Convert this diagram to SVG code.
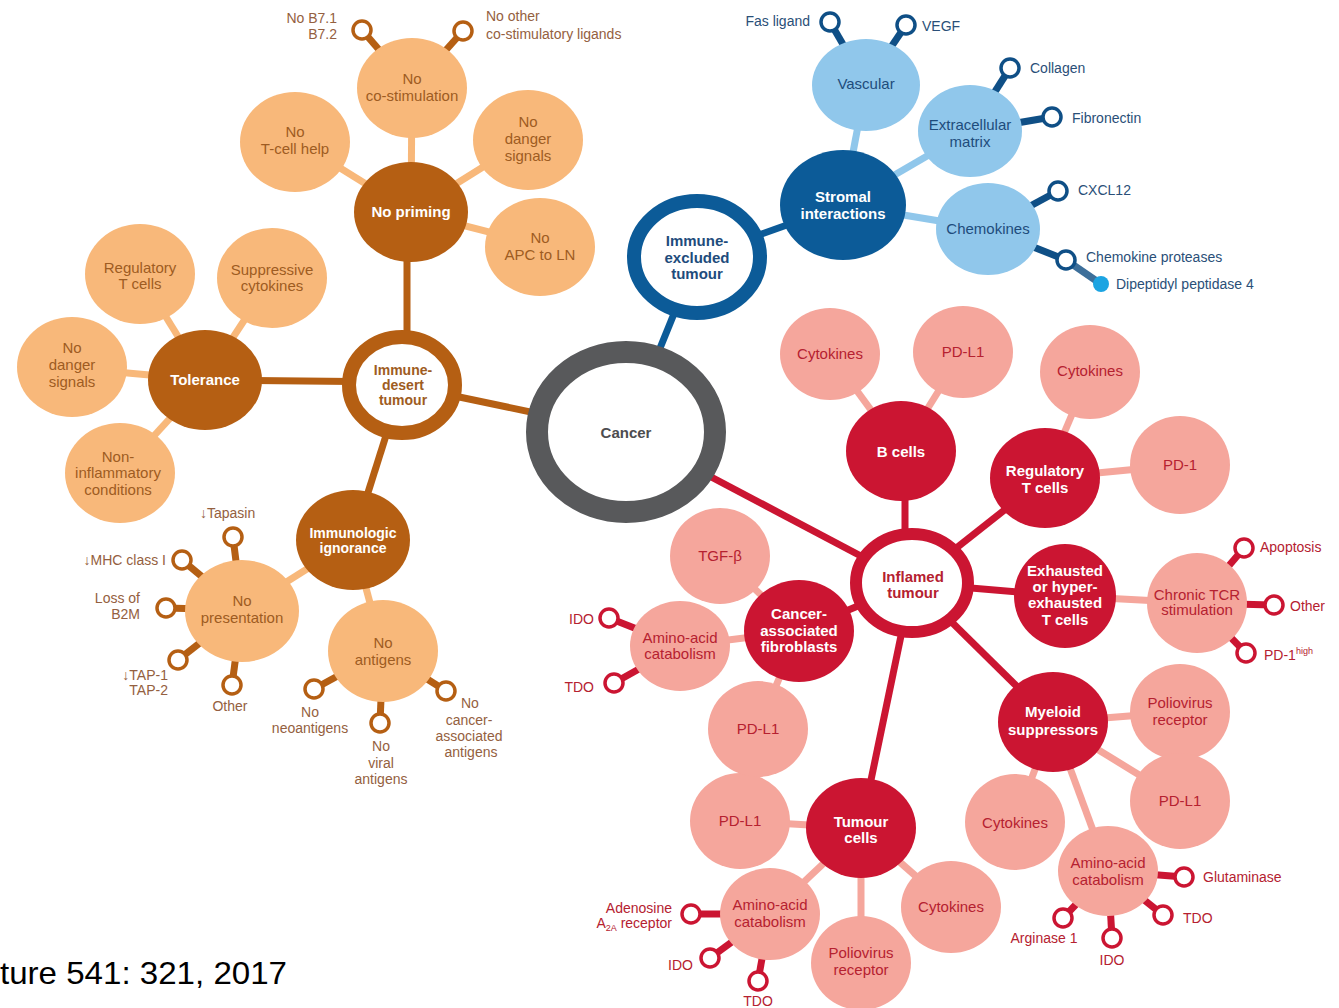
<svg xmlns="http://www.w3.org/2000/svg" width="1339" height="1008" viewBox="0 0 1339 1008">
<style>
text{font-family:"Liberation Sans Narrow","Liberation Sans",Arial,sans-serif;font-size:15px;text-anchor:middle}
.b{font-weight:bold;fill:#fff}
.ol{fill:#f8b87a}.od{fill:#b55f13}.otx{fill:#9e5c22}.osm{fill:#946040;font-size:14px}
.bl{fill:#90c7eb}.bd{fill:#0c5b98}.btx{fill:#1e4c7c}.bsm{fill:#2a4f78;font-size:14px}
.rl{fill:#f5a69c}.rd{fill:#cb1532}.rtx{fill:#b52130}.rsm{fill:#b52130;font-size:14px}
.st{text-anchor:start}.en{text-anchor:end}
.sm14{font-size:14px}
.co line{stroke-width:7}
.cO{stroke:#b55f13}.cOl{stroke:#f8b87a}.cB{stroke:#0c5b98}.cBl{stroke:#90c7eb}.cR{stroke:#cb1532}.cRl{stroke:#f5a69c}
.sO{stroke:#b55f13;stroke-width:3.5}.sB{stroke:#0f4f86;stroke-width:3.5}.sR{stroke:#cb1532;stroke-width:3.5}
.rO{fill:#fff;stroke:#b55f13;stroke-width:3.5}.rB{fill:#fff;stroke:#0f4f86;stroke-width:3.5}.rR{fill:#fff;stroke:#cb1532;stroke-width:3.5}
</style>
<rect width="1339" height="1008" fill="#fff"/>
<g id="connectors" class="co">
<line class="cO" x1="626" y1="432" x2="402" y2="385"/>
<line class="cO" x1="407" y1="385" x2="407" y2="212"/>
<line class="cO" x1="402" y1="382" x2="205" y2="380"/>
<line class="cO" x1="402" y1="385" x2="353" y2="540"/>
<line class="cOl" x1="411" y1="212" x2="412" y2="88"/>
<line class="cOl" x1="411" y1="212" x2="295" y2="140"/>
<line class="cOl" x1="411" y1="212" x2="528" y2="139"/>
<line class="cOl" x1="411" y1="212" x2="540" y2="245"/>
<line class="cOl" x1="205" y1="380" x2="140" y2="275"/>
<line class="cOl" x1="205" y1="380" x2="272" y2="278"/>
<line class="cOl" x1="205" y1="380" x2="72" y2="368"/>
<line class="cOl" x1="205" y1="380" x2="120" y2="473"/>
<line class="cOl" x1="353" y1="540" x2="242" y2="610"/>
<line class="cOl" x1="353" y1="540" x2="383" y2="651"/>
<line class="sO" x1="362" y1="30" x2="412" y2="88"/>
<line class="sO" x1="463" y1="31" x2="412" y2="88"/>
<line class="sO" x1="233" y1="537" x2="242" y2="610"/>
<line class="sO" x1="182" y1="560" x2="242" y2="610"/>
<line class="sO" x1="166" y1="608" x2="242" y2="610"/>
<line class="sO" x1="178" y1="660" x2="242" y2="610"/>
<line class="sO" x1="232" y1="685" x2="242" y2="610"/>
<line class="sO" x1="314" y1="689" x2="383" y2="651"/>
<line class="sO" x1="380" y1="723" x2="383" y2="651"/>
<line class="sO" x1="446" y1="691" x2="383" y2="651"/>
<line class="cB" x1="626" y1="432" x2="697" y2="257"/>
<line class="cB" x1="697" y1="257" x2="843" y2="205"/>
<line class="cBl" x1="843" y1="205" x2="866" y2="84"/>
<line class="cBl" x1="843" y1="205" x2="970" y2="131"/>
<line class="cBl" x1="843" y1="205" x2="988" y2="229"/>
<line class="sB" x1="830" y1="22" x2="866" y2="84"/>
<line class="sB" x1="906" y1="25" x2="866" y2="84"/>
<line class="sB" x1="1010" y1="68" x2="970" y2="131"/>
<line class="sB" x1="1052" y1="117" x2="970" y2="131"/>
<line class="sB" x1="1058" y1="191" x2="988" y2="229"/>
<line class="sB" x1="1066" y1="260" x2="988" y2="229"/>
<line stroke="#3d6f9a" stroke-width="2" x1="1066" y1="260" x2="1101" y2="284"/>
<line class="cR" x1="626" y1="432" x2="912" y2="583"/>
<line class="cR" x1="905" y1="583" x2="905" y2="451"/>
<line class="cR" x1="912" y1="583" x2="1045" y2="478"/>
<line class="cR" x1="912" y1="583" x2="1065" y2="596"/>
<line class="cR" x1="912" y1="583" x2="1053" y2="722"/>
<line class="cR" x1="912" y1="583" x2="861" y2="828"/>
<line class="cR" x1="912" y1="583" x2="799" y2="631"/>
<line class="cRl" x1="901" y1="451" x2="830" y2="354"/>
<line class="cRl" x1="901" y1="451" x2="963" y2="352"/>
<line class="cRl" x1="1045" y1="478" x2="1090" y2="372"/>
<line class="cRl" x1="1045" y1="478" x2="1180" y2="465"/>
<line class="cRl" x1="1065" y1="596" x2="1197" y2="603"/>
<line class="cRl" x1="1053" y1="722" x2="1180" y2="712"/>
<line class="cRl" x1="1053" y1="722" x2="1180" y2="800"/>
<line class="cRl" x1="1053" y1="722" x2="1015" y2="822"/>
<line class="cRl" x1="1053" y1="722" x2="1108" y2="871"/>
<line class="cRl" x1="861" y1="828" x2="740" y2="821"/>
<line class="cRl" x1="861" y1="828" x2="770" y2="914"/>
<line class="cRl" x1="861" y1="828" x2="861" y2="962"/>
<line class="cRl" x1="861" y1="828" x2="951" y2="907"/>
<line class="cRl" x1="799" y1="631" x2="720" y2="556"/>
<line class="cRl" x1="799" y1="631" x2="680" y2="646"/>
<line class="cRl" x1="799" y1="631" x2="758" y2="729"/>
<line class="sR" x1="1244" y1="548" x2="1197" y2="603"/>
<line class="sR" x1="1274" y1="605" x2="1197" y2="603"/>
<line class="sR" x1="1246" y1="653" x2="1197" y2="603"/>
<line class="sR" x1="1184" y1="877" x2="1108" y2="871"/>
<line class="sR" x1="1163" y1="915" x2="1108" y2="871"/>
<line class="sR" x1="1112" y1="938" x2="1108" y2="871"/>
<line class="sR" x1="1063" y1="918" x2="1108" y2="871"/>
<line class="sR" x1="691" y1="914" x2="770" y2="914"/>
<line class="sR" x1="710" y1="958" x2="770" y2="914"/>
<line class="sR" x1="758" y1="981" x2="770" y2="914"/>
<line class="sR" x1="609" y1="618" x2="680" y2="646"/>
<line class="sR" x1="614" y1="683" x2="680" y2="646"/>
</g>
<g id="cancer"><ellipse cx="626" cy="432" rx="89" ry="80" fill="#fff" stroke="#58595b" stroke-width="22"/><text x="626" y="438" font-weight="bold" fill="#4d4d4f">Cancer</text></g>
<g id="immune-desert"><ellipse cx="402" cy="385" rx="53" ry="48" fill="#fff" stroke="#b55f13" stroke-width="14"/><text class="sm14" x="403" y="375" font-weight="bold" fill="#9e5c22">Immune-</text><text class="sm14" x="403" y="390" font-weight="bold" fill="#9e5c22">desert</text><text class="sm14" x="403" y="405" font-weight="bold" fill="#9e5c22">tumour</text></g>
<g id="no-priming"><ellipse class="od" cx="411" cy="212" rx="57" ry="50"/><text class="b" x="411" y="217">No priming</text></g>
<g id="no-costim"><ellipse class="ol" cx="412" cy="88" rx="55" ry="50"/><text class="otx" x="412" y="84">No</text><text class="otx" x="412" y="101">co-stimulation</text></g>
<g id="no-tcell-help"><ellipse class="ol" cx="295" cy="142" rx="55" ry="50"/><text class="otx" x="295" y="137">No</text><text class="otx" x="295" y="154">T-cell help</text></g>
<g id="no-danger-top"><ellipse class="ol" cx="528" cy="140" rx="55" ry="50"/><text class="otx" x="528" y="127">No</text><text class="otx" x="528" y="144">danger</text><text class="otx" x="528" y="161">signals</text></g>
<g id="no-apc"><ellipse class="ol" cx="540" cy="247" rx="55" ry="49"/><text class="otx" x="540" y="243">No</text><text class="otx" x="540" y="260">APC to LN</text></g>
<g id="ring-b7"><circle class="rO" cx="362" cy="30" r="9"/><text class="osm en" x="337" y="23">No B7.1</text><text class="osm en" x="337" y="39">B7.2</text></g>
<g id="ring-other-costim"><circle class="rO" cx="463" cy="31" r="9"/><text class="osm st" x="486" y="21">No other</text><text class="osm st" x="486" y="39">co-stimulatory ligands</text></g>
<g id="tolerance"><ellipse class="od" cx="205" cy="380" rx="57" ry="50"/><text class="b" x="205" y="385">Tolerance</text></g>
<g id="reg-t"><ellipse class="ol" cx="140" cy="274" rx="55" ry="50"/><text class="otx" x="140" y="273">Regulatory</text><text class="otx" x="140" y="289">T cells</text></g>
<g id="supp-cyt"><ellipse class="ol" cx="272" cy="278" rx="55" ry="50"/><text class="otx" x="272" y="275">Suppressive</text><text class="otx" x="272" y="291">cytokines</text></g>
<g id="no-danger-left"><ellipse class="ol" cx="72" cy="367" rx="55" ry="50"/><text class="otx" x="72" y="353">No</text><text class="otx" x="72" y="370">danger</text><text class="otx" x="72" y="387">signals</text></g>
<g id="non-inflam"><ellipse class="ol" cx="120" cy="473" rx="55" ry="50"/><text class="otx" x="118" y="462">Non-</text><text class="otx" x="118" y="478">inflammatory</text><text class="otx" x="118" y="495">conditions</text></g>
<g id="ignorance"><ellipse class="od" cx="353" cy="540" rx="57" ry="50"/><text class="b sm14" x="353" y="538">Immunologic</text><text class="b sm14" x="353" y="553">ignorance</text></g>
<g id="no-presentation"><ellipse class="ol" cx="242" cy="611" rx="57" ry="51"/><text class="otx" x="242" y="606">No</text><text class="otx" x="242" y="623">presentation</text></g>
<g id="no-antigens"><ellipse class="ol" cx="383" cy="651" rx="55" ry="51"/><text class="otx" x="383" y="648">No</text><text class="otx" x="383" y="665">antigens</text></g>
<g id="ring-tapasin"><circle class="rO" cx="233" cy="537" r="9"/><text class="osm st" x="200" y="518">↓Tapasin</text></g>
<g id="ring-mhc"><circle class="rO" cx="182" cy="560" r="9"/><text class="osm en" x="166" y="565">↓MHC class I</text></g>
<g id="ring-b2m"><circle class="rO" cx="166" cy="608" r="9"/><text class="osm en" x="140" y="603">Loss of</text><text class="osm en" x="140" y="619">B2M</text></g>
<g id="ring-tap"><circle class="rO" cx="178" cy="660" r="9"/><text class="osm en" x="168" y="680">↓TAP-1</text><text class="osm en" x="168" y="695">TAP-2</text></g>
<g id="ring-other-pres"><circle class="rO" cx="232" cy="685" r="9"/><text class="osm" x="230" y="711">Other</text></g>
<g id="ring-neo"><circle class="rO" cx="314" cy="689" r="9"/><text class="osm" x="310" y="717">No</text><text class="osm" x="310" y="733">neoantigens</text></g>
<g id="ring-viral"><circle class="rO" cx="380" cy="723" r="9"/><text class="osm" x="381" y="751">No</text><text class="osm" x="381" y="768">viral</text><text class="osm" x="381" y="784">antigens</text></g>
<g id="ring-caa"><circle class="rO" cx="446" cy="691" r="9"/><text class="osm st" x="461" y="708">No</text><text class="osm" x="469" y="725">cancer-</text><text class="osm" x="469" y="741">associated</text><text class="osm" x="471" y="757">antigens</text></g>
<g id="immune-excluded"><ellipse cx="697" cy="257" rx="63" ry="56" fill="#fff" stroke="#0c5b98" stroke-width="14"/><text x="697" y="246" font-weight="bold" fill="#1e4c7c">Immune-</text><text x="697" y="263" font-weight="bold" fill="#1e4c7c">excluded</text><text x="697" y="279" font-weight="bold" fill="#1e4c7c">tumour</text></g>
<g id="stromal"><ellipse class="bd" cx="843" cy="205" rx="63" ry="55"/><text class="b" x="843" y="202">Stromal</text><text class="b" x="843" y="219">interactions</text></g>
<g id="vascular"><ellipse class="bl" cx="866" cy="85" rx="54" ry="46"/><text class="btx" x="866" y="89">Vascular</text></g>
<g id="ecm"><ellipse class="bl" cx="970" cy="131" rx="52" ry="46"/><text class="btx" x="970" y="130">Extracellular</text><text class="btx" x="970" y="147">matrix</text></g>
<g id="chemokines"><ellipse class="bl" cx="988" cy="229" rx="52" ry="46"/><text class="btx" x="988" y="234">Chemokines</text></g>
<g id="ring-fas"><circle class="rB" cx="830" cy="22" r="9"/><text class="bsm en" x="810" y="26">Fas ligand</text></g>
<g id="ring-vegf"><circle class="rB" cx="906" cy="25" r="9"/><text class="bsm st" x="922" y="31">VEGF</text></g>
<g id="ring-collagen"><circle class="rB" cx="1010" cy="68" r="9"/><text class="bsm st" x="1030" y="73">Collagen</text></g>
<g id="ring-fibronectin"><circle class="rB" cx="1052" cy="117" r="9"/><text class="bsm st" x="1072" y="123">Fibronectin</text></g>
<g id="ring-cxcl12"><circle class="rB" cx="1058" cy="191" r="9"/><text class="bsm st" x="1078" y="195">CXCL12</text></g>
<g id="ring-proteases"><circle class="rB" cx="1066" cy="260" r="9"/><text class="bsm st" x="1086" y="262">Chemokine proteases</text></g>
<g id="dpp4"><circle cx="1101" cy="284" r="8" fill="#1ca4e2"/><text class="bsm st" x="1116" y="289">Dipeptidyl peptidase 4</text></g>
<g id="inflamed"><ellipse cx="912" cy="583" rx="56" ry="49" fill="#fff" stroke="#cb1532" stroke-width="12"/><text x="913" y="582" font-weight="bold" fill="#b52130">Inflamed</text><text x="913" y="598" font-weight="bold" fill="#b52130">tumour</text></g>
<g id="b-cells"><ellipse class="rd" cx="901" cy="451" rx="55" ry="50"/><text class="b" x="901" y="457">B cells</text></g>
<g id="cyt-b"><ellipse class="rl" cx="830" cy="354" rx="50" ry="46"/><text class="rtx" x="830" y="359">Cytokines</text></g>
<g id="pdl1-b"><ellipse class="rl" cx="963" cy="352" rx="50" ry="46"/><text class="rtx" x="963" y="357">PD-L1</text></g>
<g id="treg"><ellipse class="rd" cx="1045" cy="478" rx="55" ry="50"/><text class="b" x="1045" y="476">Regulatory</text><text class="b" x="1045" y="493">T cells</text></g>
<g id="cyt-treg"><ellipse class="rl" cx="1090" cy="372" rx="50" ry="47"/><text class="rtx" x="1090" y="376">Cytokines</text></g>
<g id="pd1"><ellipse class="rl" cx="1180" cy="465" rx="50" ry="49"/><text class="rtx" x="1180" y="470">PD-1</text></g>
<g id="exhausted"><ellipse class="rd" cx="1065" cy="596" rx="51" ry="52"/><text class="b" x="1065" y="576">Exhausted</text><text class="b" x="1065" y="592">or hyper-</text><text class="b" x="1065" y="608">exhausted</text><text class="b" x="1065" y="625">T cells</text></g>
<g id="chronic-tcr"><ellipse class="rl" cx="1197" cy="603" rx="50" ry="50"/><text class="rtx" x="1197" y="600">Chronic TCR</text><text class="rtx" x="1197" y="615">stimulation</text></g>
<g id="ring-apoptosis"><circle class="rR" cx="1244" cy="548" r="9"/><text class="rsm st" x="1260" y="552">Apoptosis</text></g>
<g id="ring-other-tcr"><circle class="rR" cx="1274" cy="605" r="9"/><text class="rsm st" x="1290" y="611">Other</text></g>
<g id="ring-pd1high"><circle class="rR" cx="1246" cy="653" r="9"/><text class="rsm st" x="1264" y="660">PD-1<tspan font-size="9" dy="-6">high</tspan></text></g>
<g id="myeloid"><ellipse class="rd" cx="1053" cy="722" rx="55" ry="50"/><text class="b" x="1053" y="717">Myeloid</text><text class="b" x="1053" y="735">suppressors</text></g>
<g id="polio-m"><ellipse class="rl" cx="1180" cy="712" rx="50" ry="48"/><text class="rtx" x="1180" y="708">Poliovirus</text><text class="rtx" x="1180" y="725">receptor</text></g>
<g id="pdl1-m"><ellipse class="rl" cx="1180" cy="801" rx="50" ry="48"/><text class="rtx" x="1180" y="806">PD-L1</text></g>
<g id="cyt-m"><ellipse class="rl" cx="1015" cy="822" rx="50" ry="48"/><text class="rtx" x="1015" y="828">Cytokines</text></g>
<g id="amino-m"><ellipse class="rl" cx="1108" cy="871" rx="50" ry="45"/><text class="rtx" x="1108" y="868">Amino-acid</text><text class="rtx" x="1108" y="885">catabolism</text></g>
<g id="ring-glut"><circle class="rR" cx="1184" cy="877" r="9"/><text class="rsm st" x="1203" y="882">Glutaminase</text></g>
<g id="ring-tdo-m"><circle class="rR" cx="1163" cy="915" r="9"/><text class="rsm st" x="1183" y="923">TDO</text></g>
<g id="ring-ido-m"><circle class="rR" cx="1112" cy="938" r="9"/><text class="rsm" x="1112" y="965">IDO</text></g>
<g id="ring-arg"><circle class="rR" cx="1063" cy="918" r="9"/><text class="rsm" x="1044" y="943">Arginase 1</text></g>
<g id="tumour-cells"><ellipse class="rd" cx="861" cy="828" rx="55" ry="50"/><text class="b" x="861" y="827">Tumour</text><text class="b" x="861" y="843">cells</text></g>
<g id="pdl1-t"><ellipse class="rl" cx="740" cy="821" rx="50" ry="48"/><text class="rtx" x="740" y="826">PD-L1</text></g>
<g id="amino-t"><ellipse class="rl" cx="770" cy="914" rx="50" ry="46"/><text class="rtx" x="770" y="910">Amino-acid</text><text class="rtx" x="770" y="927">catabolism</text></g>
<g id="polio-t"><ellipse class="rl" cx="861" cy="963" rx="50" ry="47"/><text class="rtx" x="861" y="958">Poliovirus</text><text class="rtx" x="861" y="975">receptor</text></g>
<g id="cyt-t"><ellipse class="rl" cx="951" cy="907" rx="50" ry="46"/><text class="rtx" x="951" y="912">Cytokines</text></g>
<g id="ring-adenosine"><circle class="rR" cx="691" cy="914" r="9"/><text class="rsm en" x="672" y="913">Adenosine</text><text class="rsm en" x="672" y="928">A<tspan font-size="9" dy="3">2A</tspan><tspan dy="-3"> receptor</tspan></text></g>
<g id="ring-ido-t"><circle class="rR" cx="710" cy="958" r="9"/><text class="rsm en" x="693" y="970">IDO</text></g>
<g id="ring-tdo-t"><circle class="rR" cx="758" cy="981" r="9"/><text class="rsm" x="758" y="1006">TDO</text></g>
<g id="caf"><ellipse class="rd" cx="799" cy="631" rx="55" ry="51"/><text class="b" x="799" y="619">Cancer-</text><text class="b" x="799" y="636">associated</text><text class="b" x="799" y="652">fibroblasts</text></g>
<g id="tgfb"><ellipse class="rl" cx="720" cy="556" rx="50" ry="48"/><text class="rtx" x="720" y="561">TGF-β</text></g>
<g id="amino-caf"><ellipse class="rl" cx="680" cy="646" rx="50" ry="45"/><text class="rtx" x="680" y="643">Amino-acid</text><text class="rtx" x="680" y="659">catabolism</text></g>
<g id="pdl1-caf"><ellipse class="rl" cx="758" cy="729" rx="50" ry="48"/><text class="rtx" x="758" y="734">PD-L1</text></g>
<g id="ring-ido-caf"><circle class="rR" cx="609" cy="618" r="9"/><text class="rsm en" x="594" y="624">IDO</text></g>
<g id="ring-tdo-caf"><circle class="rR" cx="614" cy="683" r="9"/><text class="rsm en" x="594" y="692">TDO</text></g>
<text x="0" y="984" textLength="287" lengthAdjust="spacingAndGlyphs" style="font-family:'Liberation Sans',Arial,sans-serif;font-size:32px;text-anchor:start;fill:#000">ture 541: 321, 2017</text>
</svg>
